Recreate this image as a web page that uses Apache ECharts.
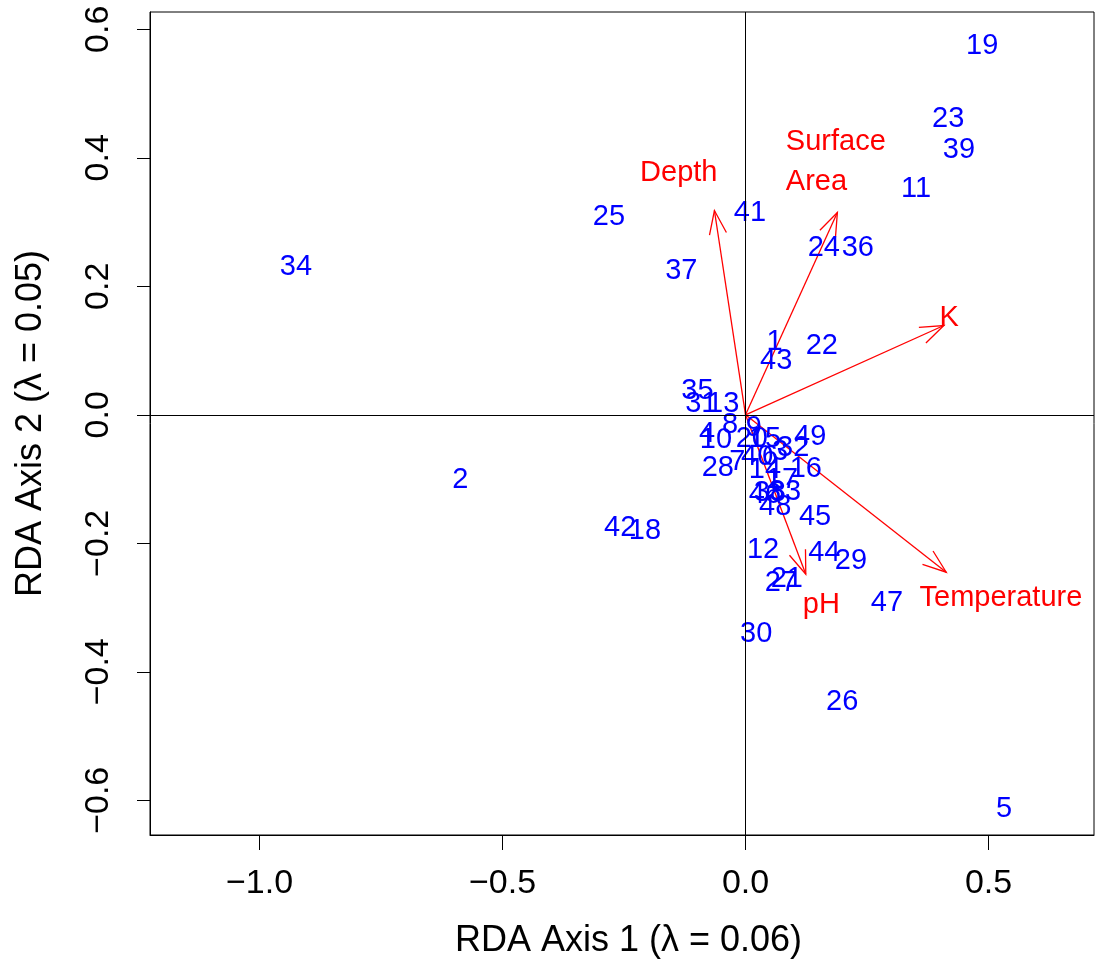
<!DOCTYPE html>
<html>
<head>
<meta charset="utf-8">
<script src="https://cdn.jsdelivr.net/npm/echarts@6/dist/echarts.min.js"></script>
<style>html,body{margin:0;padding:0;background:#fff}#c{width:1096px;height:960px}</style>
</head>
<body>
<div id="c"></div>
<script>
// Site scores (label centres)
var siteIds = ['19','23','39','11','24','36','41','25','34','37','1','43','22','35','31','13','2','42','18','4','8','9','10','20','15','40','7','6','3','32','49','28','14','16','17','33','38','46','48','45','12','44','29','21','27','47','30','26','5'];
var siteX = [0.487,0.417,0.439,0.351,0.161,0.231,0.009,-0.281,-0.925,-0.132,0.060,0.063,0.157,-0.099,-0.091,-0.046,-0.587,-0.258,-0.207,-0.079,-0.032,0.017,-0.061,0.013,0.040,0.024,-0.017,0.050,0.071,0.098,0.133,-0.057,0.040,0.124,0.075,0.081,0.050,0.040,0.061,0.143,0.036,0.162,0.217,0.085,0.073,0.291,0.022,0.199,0.532];
var siteY = [0.577,0.464,0.415,0.355,0.263,0.263,0.317,0.311,0.233,0.227,0.116,0.087,0.110,0.040,0.020,0.020,-0.098,-0.173,-0.178,-0.027,-0.013,-0.017,-0.036,-0.035,-0.035,-0.063,-0.070,-0.063,-0.055,-0.049,-0.031,-0.080,-0.083,-0.081,-0.098,-0.117,-0.118,-0.122,-0.140,-0.156,-0.207,-0.212,-0.224,-0.252,-0.258,-0.290,-0.338,-0.444,-0.611];

// Environmental vectors (arrow tips) and their label anchors
var envNames = ['Depth','Surface\nArea','K','Temperature','pH'];
var envX = [-0.064, 0.189, 0.408, 0.413, 0.124];
var envY = [0.318, 0.315, 0.139, -0.245, -0.248];
var envLabelX = [-0.217, 0.083, 0.399, 0.358, 0.118];
var envLabelY = [0.380, 0.397, 0.154, -0.282, -0.293];

// Axes
var xTicks = [-1.0, -0.5, 0.0, 0.5];
var yTicks = [-0.6, -0.4, -0.2, 0.0, 0.2, 0.4, 0.6];
var xRange = [-1.2253, 0.717];
var yRange = [-0.654, 0.627];
var xTitle = 'RDA Axis 1 (λ = 0.06)';
var yTitle = 'RDA Axis 2 (λ = 0.05)';

var FONT = '"Liberation Sans", Arial, Helvetica, sans-serif';
var TEXT_DY = 2; // glyph centring tweak (pixels)
function fmt(v){ return (v < -1e-9 ? '\u2212' : '') + Math.abs(v).toFixed(1); }

var chart = echarts.init(document.getElementById('c'), null, {renderer:'canvas'});
var option = {
  backgroundColor: '#fff',
  animation: false,
  grid: {left:150, top:12, right:2, bottom:125, show:true, borderColor:'#000', borderWidth:1, backgroundColor:'transparent', containLabel:false, outerBoundsMode:'none'},
  xAxis: {
    type:'value', min:xRange[0], max:xRange[1],
    axisLine:{show:true, onZero:false, lineStyle:{color:'#000', width:1}},
    axisTick:{show:true, inside:false, length:15, customValues:xTicks, lineStyle:{color:'#000'}},
    axisLabel:{show:true, customValues:xTicks, formatter:fmt, color:'#000', fontSize:34, fontFamily:FONT, margin:32},
    splitLine:{show:false},
    name:xTitle, nameLocation:'middle', nameGap:88,
    nameTextStyle:{color:'#000', fontSize:36, fontFamily:FONT, padding:[0,0,0,13]}
  },
  yAxis: {
    type:'value', min:yRange[0], max:yRange[1],
    axisLine:{show:true, onZero:false, lineStyle:{color:'#000', width:1}},
    axisTick:{show:true, inside:false, length:13, customValues:yTicks, lineStyle:{color:'#000'}},
    axisLabel:{show:true, customValues:yTicks, formatter:fmt, rotate:90, color:'#000', fontSize:34, fontFamily:FONT, margin:34},
    splitLine:{show:false},
    name:yTitle, nameLocation:'middle', nameGap:101,
    nameTextStyle:{color:'#000', fontSize:36, fontFamily:FONT}
  },
  series: [
    {
      type:'line', data:[], silent:true, z:1,
      markLine:{silent:true, symbol:['none','none'], label:{show:false},
        lineStyle:{color:'#000', width:1, type:'solid'},
        emphasis:{disabled:true},
        data:[{xAxis:0},{yAxis:0}]}
    },
    {
      type:'custom', z:2, silent:true,
      data: envX.map(function(x,i){ return [x, envY[i]]; }),
      renderItem: function(params, api){
        var o = api.coord([0,0]);
        var t = api.coord([api.value(0), api.value(1)]);
        var ang = Math.atan2(t[1]-o[1], t[0]-o[0]);
        var L = 25, a = 20*Math.PI/180;
        var h1 = [t[0]-L*Math.cos(ang-a), t[1]-L*Math.sin(ang-a)];
        var h2 = [t[0]-L*Math.cos(ang+a), t[1]-L*Math.sin(ang+a)];
        return {type:'group', children:[
          {type:'line', shape:{x1:o[0],y1:o[1],x2:t[0],y2:t[1]}, style:{stroke:'#FF0000', lineWidth:1.3}},
          {type:'polyline', shape:{points:[h1,t,h2]}, style:{stroke:'#FF0000', lineWidth:1.3, fill:null}}
        ]};
      }
    },
    {
      type:'custom', z:3, silent:true,
      data: envLabelX.map(function(x,i){ return [x, envLabelY[i], i]; }),
      renderItem: function(params, api){
        var p = api.coord([api.value(0), api.value(1)]);
        var i = api.value(2);
        return {type:'text', x:p[0], y:p[1]+TEXT_DY, style:{text:envNames[i], fill:'#FF0000', fontSize:29, fontFamily:FONT, lineHeight:40, align:'left', verticalAlign:'middle'}};
      }
    },
    {
      type:'custom', z:4, silent:true,
      data: siteX.map(function(x,i){ return [x, siteY[i], i]; }),
      renderItem: function(params, api){
        var p = api.coord([api.value(0), api.value(1)]);
        var i = api.value(2);
        return {type:'text', x:p[0], y:p[1]+TEXT_DY, style:{text:siteIds[i], fill:'#0000FF', fontSize:29, fontFamily:FONT, align:'center', verticalAlign:'middle'}};
      }
    }
  ]
};
chart.setOption(option);
</script>
</body>
</html>
